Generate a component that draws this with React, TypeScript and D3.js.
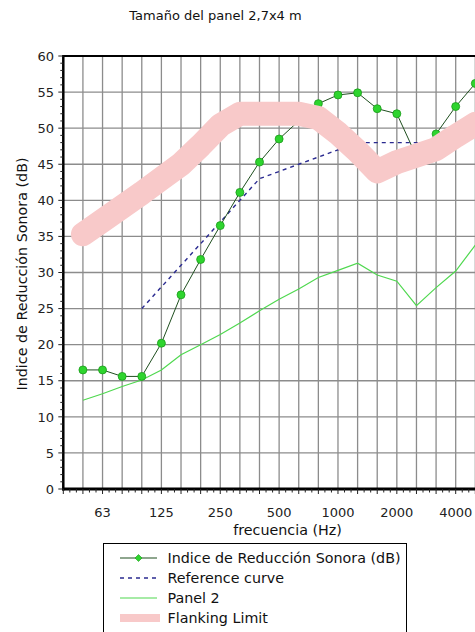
import React from "react";
import * as d3 from "d3";

const bands = ["50","63","80","100","125","160","200","250","315","400","500","630","800","1000","1250","1600","2000","2500","3150","4000","5000"];
const tickLabels = ["63","125","250","500","1000","2000","4000"];
const yTicks = [0,5,10,15,20,25,30,35,40,45,50,55,60];

// Indice de Reducción Sonora (dB), 50..5000
const reduction = [16.5,16.5,15.6,15.6,20.2,26.9,31.8,36.5,41.1,45.3,48.5,51.0,53.4,54.6,54.9,52.7,52.0,46.1,49.2,53.0,56.2];
// Reference curve, 100..3150
const refBands = ["100","125","160","200","250","315","400","500","630","800","1000","1250","1600","2000","2500","3150"];
const refCurve = [25,28,31,34,37,40,43,44,45,46,47,48,48,48,48,48];
// Panel 2, 50..5000
const panel2 = [12.3,13.2,14.2,15.1,16.5,18.6,20.0,21.4,23.0,24.7,26.3,27.7,29.3,30.3,31.3,29.65,28.8,25.4,27.9,30.2,33.8];
// Flanking Limit, 50..5000
const flanking = [35.3,37.2,39.1,41.0,43.0,45.0,47.6,50.4,52.0,52.0,52.0,52.0,51.4,49.3,46.8,44.0,45.3,46.2,47.1,48.9,50.6];

const legendItems = ["Indice de Reducción Sonora (dB)","Reference curve","Panel 2","Flanking Limit"];

const FONT = "'DejaVu Sans', Verdana, sans-serif";

export default function App() {
  const W = 475, H = 632;
  const left = 63.3, top = 56, bottom = 489;
  const step = 19.62;
  const x = d3.scaleLinear().domain([-1, 21]).range([left, left + 22 * step]);
  const y = d3.scaleLinear().domain([0, 60]).range([bottom, top]);
  const bi = (b: string) => bands.indexOf(b);

  const line = d3.line<[number, number]>().x(d => x(d[0])).y(d => y(d[1]));
  const mainPts: [number, number][] = reduction.map((v, i) => [i, v]);
  const refPts: [number, number][] = refCurve.map((v, i) => [bi(refBands[i]), v]);
  const p2Pts: [number, number][] = panel2.map((v, i) => [i, v]);
  const flPts: [number, number][] = flanking.map((v, i) => [i, v]);

  const minorX = d3.range(-3, 66).map(k => k / 3);
  const minorY = d3.range(0, 61);

  const legX = 103.5, legY = 543.5;
  const rowY = (i: number) => 558 + i * 20;

  return (
    <div style={{ position: "fixed", left: 0, top: 0, width: W, height: H, background: "#fff" }}>
      <svg width={W} height={H} style={{ display: "block" }} fontFamily={FONT}>
        <rect x={0} y={0} width={W} height={H} fill="#fff" />
        <text x={215.5} y={19.5} fontSize={13} textAnchor="middle" fill="#111">Tamaño del panel 2,7x4 m</text>

        {/* grid */}
        {bands.map((b, i) => (
          <line key={"vg" + b} x1={x(i)} x2={x(i)} y1={top} y2={bottom} stroke="#8c8c8c" strokeWidth={1.3} />
        ))}
        {yTicks.filter(t => t > 0 && t < 60).map(t => (
          <line key={"hg" + t} x1={left} x2={W + 30} y1={y(t)} y2={y(t)} stroke="#8c8c8c" strokeWidth={1.3} />
        ))}

        {/* series */}
        <path d={line(p2Pts) || ""} fill="none" stroke="#4fd84f" strokeWidth={1.2} />
        <path d={line(refPts) || ""} fill="none" stroke="#2a2a90" strokeWidth={1.4} strokeDasharray="4,4" />
        <path d={line(mainPts) || ""} fill="none" stroke="#1f4f1f" strokeWidth={1} />
        {mainPts.map((p, i) => (
          <circle key={"m" + i} cx={x(p[0])} cy={y(p[1])} r={4} fill="#2ed42e" stroke="#1a9a1a" strokeWidth={0.8} />
        ))}
        <path d={line(flPts) || ""} fill="none" stroke="#f8c9c9" strokeWidth={24} strokeLinejoin="round" strokeLinecap="round" />

        {/* axes */}
        <line x1={left} x2={W + 30} y1={top} y2={top} stroke="#000" strokeWidth={2} />
        <line x1={left} x2={left} y1={top - 1} y2={bottom + 1.5} stroke="#000" strokeWidth={2.5} />
        <line x1={left - 1} x2={W + 30} y1={bottom} y2={bottom} stroke="#000" strokeWidth={3} />
        {minorY.map(t => (
          <line key={"yt" + t} x1={left - (t % 5 === 0 ? 5 : 3)} x2={left} y1={y(t)} y2={y(t)} stroke="#222" strokeWidth={1} />
        ))}
        {minorX.map(k => (
          <line key={"xt" + k} x1={x(k)} x2={x(k)} y1={bottom} y2={bottom + (Math.abs(k - Math.round(k)) < 0.01 ? 5 : 3.5)} stroke="#222" strokeWidth={1} />
        ))}
        {yTicks.map(t => (
          <text key={"yl" + t} x={54} y={y(t)} dy="0.36em" fontSize={13} textAnchor="end" fill="#222">{t}</text>
        ))}
        {tickLabels.map(l => (
          <text key={"xl" + l} x={x(bi(l))} y={517} fontSize={13} textAnchor="middle" fill="#222">{l}</text>
        ))}
        <text x={287.5} y={535} fontSize={14.3} textAnchor="middle" fill="#111">frecuencia (Hz)</text>
        <text transform={`translate(26.5,274) rotate(-90)`} fontSize={14.3} textAnchor="middle" fill="#111">Indice de Reducción Sonora (dB)</text>

        {/* legend */}
        <rect x={legX} y={legY} width={303} height={100} fill="#fff" stroke="#000" strokeWidth={1} />
        <line x1={120} x2={157} y1={rowY(0)} y2={rowY(0)} stroke="#1f4f1f" strokeWidth={1.2} />
        <path d={`M${138.5},${rowY(0) - 3.5} L${142},${rowY(0)} L${138.5},${rowY(0) + 3.5} L${135},${rowY(0)} Z`} fill="#2ed42e" stroke="#1a9a1a" strokeWidth={0.6} />
        <line x1={120} x2={157} y1={rowY(1)} y2={rowY(1)} stroke="#2a2a90" strokeWidth={1.4} strokeDasharray="4,4" />
        <line x1={120} x2={157} y1={rowY(2)} y2={rowY(2)} stroke="#4fd84f" strokeWidth={1.2} />
        <line x1={120} x2={160} y1={rowY(3)} y2={rowY(3)} stroke="#f8c9c9" strokeWidth={8} />
        {legendItems.map((t, i) => (
          <text key={"lg" + i} x={167.5} y={rowY(i)} dy="0.36em" fontSize={14.3} fill="#111">{t}</text>
        ))}
      </svg>
    </div>
  );
}
